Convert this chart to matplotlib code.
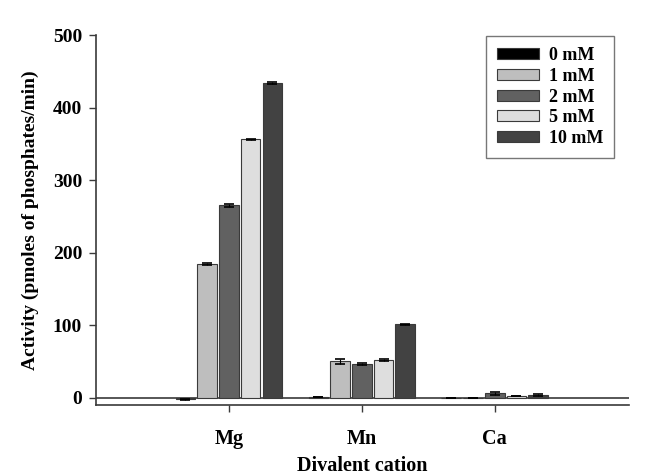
import numpy as np
import matplotlib
matplotlib.use("Agg")
import matplotlib.pyplot as plt

cations = ["Mg", "Mn", "Ca"]
conc_labels = ["0 mM", "1 mM", "2 mM", "5 mM", "10 mM"]
activity = {
    "0 mM": [-2, 0.8, 0],
    "1 mM": [184, 50, 0],
    "2 mM": [265, 47, 6],
    "5 mM": [356, 52, 2.3],
    "10 mM": [434, 101, 3.7],
}
errors = {
    "0 mM": [0.5, 0.3, 0],
    "1 mM": [1.5, 3.5, 0],
    "2 mM": [1.5, 1.5, 2],
    "5 mM": [1.0, 1.5, 0.5],
    "10 mM": [1.5, 1.0, 0.8],
}
colors = ["#000000", "#bebebe", "#616161", "#dedede", "#424242"]

plt.rcParams["font.family"] = ["Liberation Serif", "DejaVu Serif"]
plt.rcParams["font.weight"] = "bold"

fig = plt.figure(figsize=(6.54, 4.75), dpi=100)
ax = fig.add_axes([96 / 654, 1 - 405 / 475, 533 / 654, 370 / 475])

x = np.arange(len(cations))
step = 0.1635
width = 0.148
for i, lab in enumerate(conc_labels):
    pos = x + (i - 2) * step
    ax.bar(pos, activity[lab], width, color=colors[i], edgecolor="#3a3a3a",
           linewidth=0.8, label=lab, zorder=2)
    ax.errorbar(pos, activity[lab], yerr=errors[lab], fmt="none",
                ecolor="black", elinewidth=0.8, capsize=3.5, capthick=1.2, zorder=3)

ax.axhline(0, color="#3a3a3a", linewidth=1.2, zorder=1)
ax.set_xlim(-1.0, 3.01)
ax.set_ylim(-10, 500)
ax.set_yticks([0, 100, 200, 300, 400, 500])
ax.set_xticks(x)
ax.set_xticklabels(cations, fontsize=14.5, fontweight="bold")
ax.tick_params(axis="y", labelsize=14, direction="out", length=5, width=1, pad=5, color="#3a3a3a")
ax.tick_params(axis="x", direction="out", length=5, width=1, pad=12, color="#3a3a3a")
for t in ax.get_yticklabels():
    t.set_fontweight("bold")
ax.spines["top"].set_visible(False)
ax.spines["right"].set_visible(False)
ax.spines["left"].set_color("#3a3a3a")
ax.spines["bottom"].set_color("#3a3a3a")
ax.spines["left"].set_linewidth(1.2)
ax.spines["bottom"].set_linewidth(1.2)

ax.set_xlabel("Divalent cation", fontsize=14.5, fontweight="bold")
ax.xaxis.set_label_coords(0.5, -0.138)
ax.set_ylabel("Activity (pmoles of phosphates/min)", fontsize=14, fontweight="bold", labelpad=10)

leg = ax.legend(loc="upper right", bbox_to_anchor=(0.972, 0.997), borderaxespad=0,
                handlelength=2.3, handleheight=0.55, labelspacing=0.2,
                handletextpad=0.55, borderpad=0.62, fancybox=False,
                edgecolor="#555555", prop={"weight": "bold", "size": 13})
leg.get_frame().set_linewidth(1.0)

fig.savefig("out.png", dpi=100)
